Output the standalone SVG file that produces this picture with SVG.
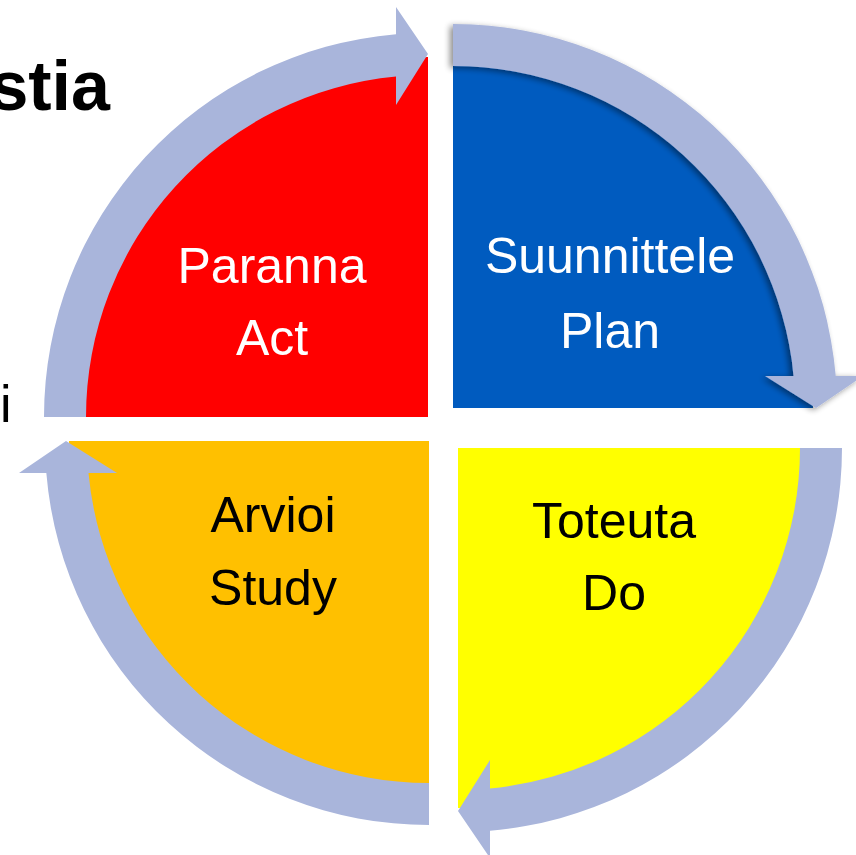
<svg xmlns="http://www.w3.org/2000/svg" width="856" height="855" viewBox="0 0 856 855">
<style>
.lbl{font-family:"Liberation Sans",Arial,sans-serif;font-size:50px;text-anchor:middle}
.w{fill:#FFFFFF}
.k{fill:#000000}
.ring{fill:#A9B5DB}
</style>
<defs>
<path id="pie" d="M 0 0 L -360 0 A 360 360 0 0 1 0 -360 Z"/>
<path id="arc" d="M -384 0 A 384 384 0 0 1 -32 -382.67 L -32 -410 L 0 -363 L -32 -312 L -32 -340.5 A 342 342 0 0 0 -342 0 Z"/>
<filter id="sh" x="-20%" y="-20%" width="140%" height="140%">
<feGaussianBlur in="SourceAlpha" stdDeviation="3"/>
<feOffset dx="2" dy="3" result="b"/>
<feComponentTransfer><feFuncA type="linear" slope="0.45"/></feComponentTransfer>
<feMerge><feMergeNode/><feMergeNode in="SourceGraphic"/></feMerge>
</filter>
</defs>
<rect width="856" height="855" fill="#FFFFFF"/>
<text x="110" y="110" font-family="Liberation Sans,Arial,sans-serif" font-weight="bold" font-size="70" text-anchor="end" fill="#000">stia</text>
<text x="0" y="422" font-family="Liberation Sans,Arial,sans-serif" font-size="52" fill="#000">i</text>
<g id="act">
<use href="#pie" transform="translate(428,417)" fill="#FF0000"/>
<text class="lbl w" x="272" y="283">Paranna</text>
<text class="lbl w" x="272" y="355">Act</text>
</g>
<g id="plan">
<use href="#pie" transform="translate(453,408) rotate(90)" fill="#005BBF"/>
<text class="lbl w" x="610" y="273">Suunnittele</text>
<text class="lbl w" x="610" y="348">Plan</text>
</g>
<g id="do">
<use href="#pie" transform="translate(458,448) rotate(180)" fill="#FFFF00"/>
<text class="lbl k" x="614" y="538">Toteuta</text>
<text class="lbl k" x="614" y="610">Do</text>
</g>
<g id="study">
<use href="#pie" transform="translate(429,441) rotate(270)" fill="#FFC000"/>
<text class="lbl k" x="273" y="532">Arvioi</text>
<text class="lbl k" x="273" y="605">Study</text>
</g>
<g id="connectors">
<use href="#arc" class="ring" transform="translate(428,417)"/>
<use href="#arc" class="ring" transform="translate(453,408) rotate(90)" filter="url(#sh)"/>
<use href="#arc" class="ring" transform="translate(458,448) rotate(180)"/>
<use href="#arc" class="ring" transform="translate(429,441) rotate(270)"/>
</g>
</svg>
